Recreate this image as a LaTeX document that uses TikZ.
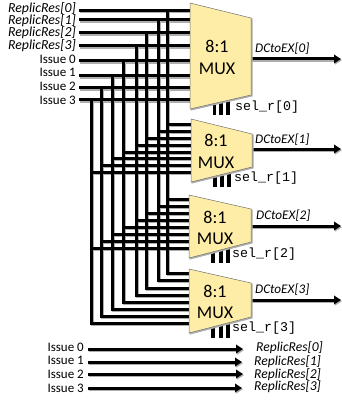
\documentclass[tikz,border=0pt]{standalone}
\usepackage{fontspec}
\setmainfont{Carlito}
\newfontfamily\codefont{Liberation Mono}
\usetikzlibrary{arrows.meta,calc}
\definecolor{muxfill}{HTML}{FDEDA6}
\definecolor{shadowgray}{gray}{0.68}
\tikzset{
  wire/.style={draw=black,line width=3pt,line cap=butt,line join=miter},
  selwire/.style={draw=black,line width=3.2pt},
  busarrow/.style={wire,-{Triangle[length=7pt,width=8.5pt]}},
  muxbody/.style={draw=black!55,line width=0.5pt,fill=muxfill},
  muxshadow/.style={draw=shadowgray,line width=1pt,fill=shadowgray},
  castshadow/.style={transform canvas={shift={(1pt,-1.2pt)}},
    wire/.append style={draw=shadowgray},busarrow/.append style={draw=shadowgray,fill=shadowgray}},
  srclabel/.style={inner sep=0pt,anchor=east,font=\fontsize{13}{13}\selectfont},
  reslabel/.style={inner sep=0pt,anchor=east,font=\fontsize{13.8}{13}\selectfont\itshape},
  outlabel/.style={inner sep=0pt,anchor=west,font=\fontsize{13.2}{13}\selectfont\itshape},
  botlabel/.style={inner sep=0pt,anchor=west,font=\fontsize{13.6}{13}\selectfont\itshape},
  sellabel/.style={inner sep=0pt,anchor=west,font=\codefont\fontsize{13.3}{13}\selectfont},
  muxtext/.style={inner sep=0pt,font=\fontsize{18}{18}\selectfont},
}
\newcommand{\allwires}{%
  \foreach \i in {7,6,...,0}{\draw[wire] (vt\i) -- (vb\i);}
  \foreach \i in {0,...,7}{
    \draw[wire] (st\i) -- (aI\i);
    \draw[wire] (bI\i -| vt\i) -- (bI\i);
    \draw[wire] (cI\i -| vt\i) -- (cI\i);
    \draw[wire] (dI\i -| vt\i) -- (dI\i);
  }
  \foreach \m in {a,b,c,d}{\draw[busarrow] (\m O) -- (\m E);}
  \foreach \k in {0,1,2,3}{\draw[busarrow] (p\k) -- (e\k);}
}
\begin{document}
\begin{tikzpicture}[x=1pt,y=-1pt]
\useasboundingbox (0,0) rectangle (341,401);
% source labels
\node[reslabel] (s0) at (76,8.5) {ReplicRes[0]};
\node[reslabel] (s1) at (76,20.5) {ReplicRes[1]};
\node[reslabel] (s2) at (76,33) {ReplicRes[2]};
\node[reslabel] (s3) at (76,45.5) {ReplicRes[3]};
\node[srclabel] (s4) at (76,59) {Issue 0};
\node[srclabel] (s5) at (76,72) {Issue 1};
\node[srclabel] (s6) at (76,86) {Issue 2};
\node[srclabel] (s7) at (76,100) {Issue 3};
% vertical bus positions, top and bottom
\foreach \i/\vx/\vtop/\vbot in {0/167.5/10.5/274.5,1/158.5/20/282,2/146.5/33/289.5,3/136/46/296.5,4/123.5/61/303.5,5/112/76/310.5,6/101/88/317.5,7/91/100/324.5}{
  \coordinate (vt\i) at (\vx,\vtop);
  \coordinate (vb\i) at (\vx,\vbot);
  \coordinate (st\i) at (79,\vtop);
}
% mux input coordinates
\foreach \i/\vy in {0/10.5,1/20,2/33,3/46,4/61,5/76,6/88,7/100}{\coordinate (aI\i) at (191,\vy);}
\foreach \i/\vy in {0/124,1/131,2/138,3/145,4/152,5/158.5,6/165,7/172}{\coordinate (bI\i) at (192,\vy);}
\foreach \i/\vy in {0/199.5,1/206.5,2/213.5,3/220.5,4/227.5,5/234.5,6/241.5,7/248.5}{\coordinate (cI\i) at (190,\vy);}
\foreach \i/\vy in {0/273,1/280.5,2/288,3/295,4/302,5/309,6/316,7/323}{\coordinate (dI\i) at (190,\vy);}
% output wires
\coordinate (aO) at (251,59);  \coordinate (aE) at (341,59);
\coordinate (bO) at (252,149); \coordinate (bE) at (341,149);
\coordinate (cO) at (251,226); \coordinate (cE) at (341,226);
\coordinate (dO) at (251,300); \coordinate (dE) at (341,300);
% pass-through wires
\foreach \k/\ex/\vy in {0/243/349,1/242/362,2/243/374,3/242/388}{
  \coordinate (p\k) at (88,\vy);
  \coordinate (e\k) at (\ex,\vy);
}
% shadows, then the wires
\begin{scope}[castshadow]\allwires\end{scope}
\allwires
% select lines
\foreach \m/\xa/\xb/\xc/\ya/\yb in {a/214.5/221/228/95/115,b/215/222/229/170/187,c/213/221/228/245/263,d/213/221/228/320/338}{
  \coordinate (\m S1t) at (\xa,\ya); \coordinate (\m S1b) at (\xa,\yb);
  \coordinate (\m S2t) at (\xb,\ya); \coordinate (\m S2b) at (\xb,\yb);
  \coordinate (\m S3t) at (\xc,\ya); \coordinate (\m S3b) at (\xc,\yb);
  \draw[selwire] (\m S1t) -- (\m S1b);
  \draw[selwire] (\m S2t) -- (\m S2b);
  \draw[selwire] (\m S3t) -- (\m S3b);
}
% mux shadows
\begin{scope}[transform canvas={shift={(1pt,-1pt)}}]
\draw[muxshadow] (190,3) -- (251,18) -- (251,95) -- (190,109) -- cycle;
\draw[muxshadow] (191,119) -- (252,134) -- (252,167) -- (191,182) -- cycle;
\draw[muxshadow] (189,195) -- (251,209) -- (251,242) -- (189,258) -- cycle;
\draw[muxshadow] (189,269) -- (251,283) -- (251,317) -- (189,333) -- cycle;
\end{scope}
% mux bodies
\draw[muxbody] (190,3) -- (251,18) -- (251,95) -- (190,109) -- cycle;
\draw[muxbody] (191,119) -- (252,134) -- (252,167) -- (191,182) -- cycle;
\draw[muxbody] (189,195) -- (251,209) -- (251,242) -- (189,258) -- cycle;
\draw[muxbody] (189,269) -- (251,283) -- (251,317) -- (189,333) -- cycle;
\node[muxtext] (aT) at (217,46) {8:1};
\node[muxtext] (aX) at (217,68.5) {MUX};
\node[muxtext] (bT) at (216,140) {8:1};
\node[muxtext] (bX) at (216,163) {MUX};
\node[muxtext] (cT) at (215,217) {8:1};
\node[muxtext] (cX) at (215,239) {MUX};
\node[muxtext] (dT) at (215,291) {8:1};
\node[muxtext] (dX) at (215,313) {MUX};
% output labels
\node[outlabel] (aL) at (255,49) {DCtoEX[0]};
\node[outlabel] (bL) at (255,140) {DCtoEX[1]};
\node[outlabel] (cL) at (256,216) {DCtoEX[2]};
\node[outlabel] (dL) at (255,290) {DCtoEX[3]};
\node[sellabel] (aR) at (235,107.5) {sel\_r[0]};
\node[sellabel] (bR) at (234,178.5) {sel\_r[1]};
\node[sellabel] (cR) at (232,254) {sel\_r[2]};
\node[sellabel] (dR) at (232,328) {sel\_r[3]};
% bottom pass-through labels
\node[srclabel] (i0) at (84,347) {Issue 0};
\node[srclabel] (i1) at (84,360) {Issue 1};
\node[srclabel] (i2) at (84,374) {Issue 2};
\node[srclabel] (i3) at (84,388) {Issue 3};
\node[botlabel] (r0) at (256,348) {ReplicRes[0]};
\node[botlabel] (r1) at (254,361.5) {ReplicRes[1]};
\node[botlabel] (r2) at (254,374.5) {ReplicRes[2]};
\node[botlabel] (r3) at (254,387) {ReplicRes[3]};
\end{tikzpicture}
\end{document}
